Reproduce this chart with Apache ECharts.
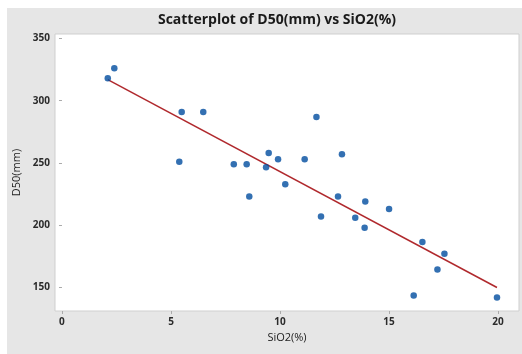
<!DOCTYPE html>
<html>
<head>
<meta charset="utf-8">
<script src="https://cdn.jsdelivr.net/npm/echarts@6/dist/echarts.min.js"></script>
<style>
  html, body { margin: 0; padding: 0; background: #ffffff; }
  #chart { width: 522px; height: 354px; }
</style>
</head>
<body>
<div id="chart"></div>
<script>
// SiO2 (%) and D50 (mm) readings
const sio2 = [2.10, 2.40, 5.49, 6.48, 5.38, 7.88, 8.47, 8.59, 11.67, 9.48, 9.36, 9.91, 10.24,
  11.13, 12.84, 11.88, 12.66, 13.91, 13.45, 13.88, 15.0, 16.53, 17.54, 17.22, 16.13, 19.95];
const d50 = [318, 326, 291, 291, 251, 249, 249, 223, 287, 258, 246.5, 253, 233,
  253, 257, 207, 223, 219, 206, 198, 213, 186.5, 177, 164.5, 143.5, 142];

// fitted line end points
const fitX = [2.10, 19.95];
const fitY = [317, 150];

const xTicks = [0, 5, 10, 15, 20];
const yTicks = [150, 200, 250, 300, 350];

const points = sio2.map((x, i) => [x, d50[i]]);
const fitLine = fitX.map((x, i) => [x, fitY[i]]);

const labelStyle = {
  color: "#2b2b2b",
  fontFamily: "Open Sans",
  fontSize: 10,
  fontWeight: "bold",
};

const chart = echarts.init(document.getElementById("chart"));
chart.setOption({
  animation: false,
  graphic: [
    {
      type: "rect",
      z: -10,
      shape: { x: 7, y: 8, width: 515, height: 346 },
      style: { fill: "#e6e6e6" },
    },
  ],
  title: {
    text: "Scatterplot of D50(mm) vs SiO2(%)",
    left: 272,
    textAlign: "center",
    top: 8,
    textStyle: {
      fontFamily: "Open Sans",
      fontSize: 14,
      fontWeight: "bold",
      color: "#1a1a1a",
    },
  },
  grid: {
    left: 55,
    right: 3,
    top: 34,
    bottom: 43,
    show: true,
    backgroundColor: "#ffffff",
    borderColor: "#cfcfcf",
    borderWidth: 1,
  },
  xAxis: {
    type: "value",
    min: -0.32,
    max: 20.96,
    name: "SiO2(%)",
    nameLocation: "middle",
    nameGap: 20,
    nameTextStyle: { color: "#222222", fontFamily: "Open Sans", fontSize: 11 },
    splitLine: { show: false },
    axisLine: { show: false },
    axisTick: { show: true, length: 3, lineStyle: { color: "#aaaaaa" }, customValues: xTicks },
    axisLabel: { ...labelStyle, margin: 6, customValues: xTicks },
  },
  yAxis: {
    type: "value",
    min: 131.1,
    max: 353.6,
    name: "D50(mm)",
    nameLocation: "middle",
    nameGap: 29,
    nameTextStyle: { color: "#222222", fontFamily: "Open Sans", fontSize: 11 },
    splitLine: { show: false },
    axisLine: { show: false },
    axisTick: { show: true, length: 3, lineStyle: { color: "#aaaaaa" }, customValues: yTicks },
    axisLabel: { ...labelStyle, margin: 5, customValues: yTicks },
  },
  series: [
    {
      type: "line",
      data: fitLine,
      symbol: "none",
      lineStyle: { color: "#b0292d", width: 1.5 },
      z: 2,
    },
    {
      type: "scatter",
      data: points,
      symbolSize: 6.5,
      itemStyle: { color: "#004c9f" },
      z: 3,
    },
  ],
});
</script>
</body>
</html>
